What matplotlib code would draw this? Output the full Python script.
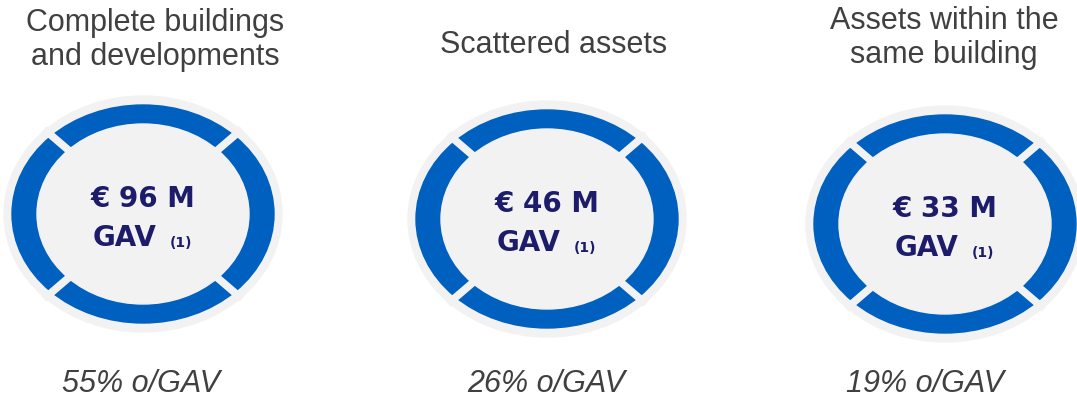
import numpy as np
import matplotlib.pyplot as plt
from matplotlib.patches import Ellipse

plt.rcParams['font.family'] = ['DejaVu Sans']

# chart values
titles = ['Complete buildings\nand developments', 'Scattered assets',
          'Assets within the\nsame building']
gav_values = [96, 46, 33]
gav_shares = [55, 26, 19]

# layout (pixel coordinates)
centers = [(143, 214), (547, 219), (945, 224)]
title_x = [155, 554, 944]
title_y = [40, 45, 38]
share_x = [141, 546, 925]

blue = '#0060BF'
grey = '#F2F2F2'
navy = '#1C1C6B'
text_grey = '#404040'

fig = plt.figure(figsize=(10.77, 4.05), dpi=100)
ax = fig.add_axes([0, 0, 1, 1])
ax.set_xlim(0, 1077)
ax.set_ylim(405, 0)
ax.axis('off')

for i, (cx, cy) in enumerate(centers):
    # outer light border, blue ring, gaps, inner fill
    ax.add_patch(Ellipse((cx, cy), 2 * 139, 2 * 118, color=grey, zorder=1))
    ax.add_patch(Ellipse((cx, cy), 2 * 131, 2 * 109, color=blue, zorder=2))
    for a in np.deg2rad([45, 135, 225, 315]):
        ax.plot([cx, cx + 140 * np.cos(a)], [cy, cy - 120 * np.sin(a)],
                color=grey, lw=5.5, solid_capstyle='butt', zorder=3)
    ax.add_patch(Ellipse((cx, cy), 2 * 106, 2 * 90, color=grey, zorder=4))

    ax.text(cx, cy - 15, f'€ {gav_values[i]} M', ha='center', va='center',
            fontsize=20, fontweight='bold', color=navy, zorder=5)
    ax.text(cx - 18, cy + 24, 'GAV', ha='center', va='center',
            fontsize=20, fontweight='bold', color=navy, zorder=5)
    ax.text(cx + 38, cy + 29, '(1)', ha='center', va='center',
            fontsize=10, fontweight='bold', color=navy, zorder=5)

    ax.text(title_x[i], title_y[i], titles[i], ha='center', va='center',
            fontsize=22, color=text_grey, linespacing=1.15,
            family='Liberation Sans')
    ax.text(share_x[i], 384, f'{gav_shares[i]}% o/GAV', ha='center',
            va='center', fontsize=22, style='italic', color=text_grey,
            family='Liberation Sans')

fig.savefig('out.png', dpi=100)
